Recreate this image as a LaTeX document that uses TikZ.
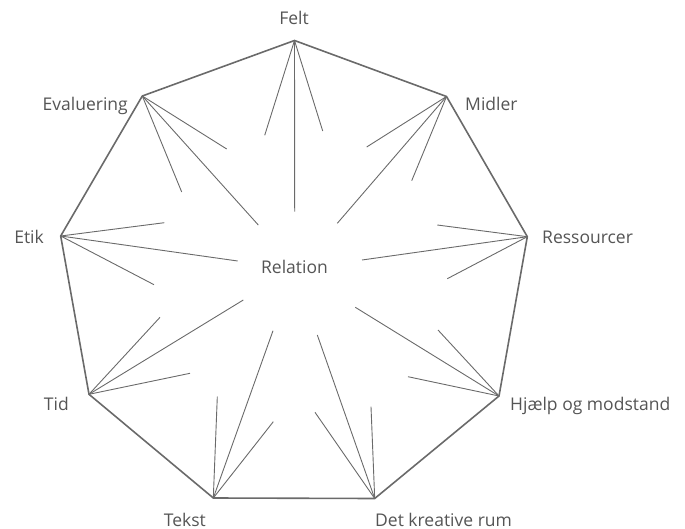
\documentclass[tikz,border=0pt]{standalone}
\usepackage{fontspec}
\setmainfont{Open Sans}
\definecolor{linegray}{HTML}{6A6A6A}
\definecolor{textgray}{HTML}{555555}
\tikzset{
  rim/.style={draw=linegray, line width=1.6pt, line join=miter},
  ray/.style={draw=linegray, line width=0.9pt},
  lbl/.style={text=textgray, font=\fontsize{17.5}{20}\selectfont, inner sep=0pt, anchor=base}
}
\begin{document}
\begin{tikzpicture}[x=1pt,y=-1pt]
\useasboundingbox (0,0) rectangle (685,529);
% vertices
\coordinate (felt) at (294.5,40.5);
\coordinate (midl) at (446.5,96.5);
\coordinate (ress) at (527.3,236.7);
\coordinate (hjlp) at (499,396);
\coordinate (krea) at (374.7,498.5);
\coordinate (teks) at (213.3,498);
\coordinate (tid)  at (89,394.3);
\coordinate (etik) at (60.7,236);
\coordinate (eval) at (142.3,96);
% rays free ends
\coordinate (f1) at (264.7,135.3); \coordinate (f2) at (294.7,211.7); \coordinate (f3) at (322.7,131);
\coordinate (m1) at (366.7,147);   \coordinate (m2) at (337.3,223.3); \coordinate (m3) at (411.7,180.7);
\coordinate (r1) at (437.3,225);   \coordinate (r2) at (362,260);     \coordinate (r3) at (447.3,278.7);
\coordinate (h1) at (355.3,307.3); \coordinate (h2) at (438,330);     \coordinate (h3) at (408,376.7);
\coordinate (k1) at (317.3,335);   \coordinate (k2) at (371,406.7);   \coordinate (k3) at (315,412.3);
\coordinate (t1) at (217.3,396.7); \coordinate (t2) at (273,330.7);   \coordinate (t3) at (273.3,421.7);
\coordinate (d1) at (160,317.3);   \coordinate (d2) at (243.3,300);   \coordinate (d3) at (190,373.3);
\coordinate (e1) at (164.3,222.7); \coordinate (e2) at (237.7,261);   \coordinate (e3) at (154,284.7);
\coordinate (v1) at (226.7,149);   \coordinate (v2) at (258.3,225);   \coordinate (v3) at (181.7,192);
% rays
\foreach \v/\p in {felt/f, midl/m, ress/r, hjlp/h, krea/k, teks/t, tid/d, etik/e, eval/v}{
  \draw[ray] (\v) -- (\p1);
  \draw[ray] (\v) -- (\p2);
  \draw[ray] (\v) -- (\p3);
}
% rim
\draw[rim] (felt) -- (midl) -- (ress) -- (hjlp) -- (krea) -- (teks) -- (tid) -- (etik) -- (eval) -- cycle;
% labels
\node[lbl] (lfelt) at (294,25) {Felt};
\node[lbl, anchor=base west] (lmidl) at (465,111) {Midler};
\node[lbl, anchor=base west] (lress) at (542,244) {Ressourcer};
\node[lbl, anchor=base west] (lhjlp) at (510,410) {Hjælp og modstand};
\node[lbl, anchor=base west] (lkrea) at (375,526) {Det kreative rum};
\node[lbl, anchor=base east] (lteks) at (206,526) {Tekst};
\node[lbl, anchor=base east] (ltid)  at (69,410) {Tid};
\node[lbl, anchor=base east] (letik) at (44,244) {Etik};
\node[lbl, anchor=base east] (leval) at (128,111) {Evaluering};
\node[lbl] (lrel) at (294.5,273) {Relation};
\end{tikzpicture}
\end{document}
